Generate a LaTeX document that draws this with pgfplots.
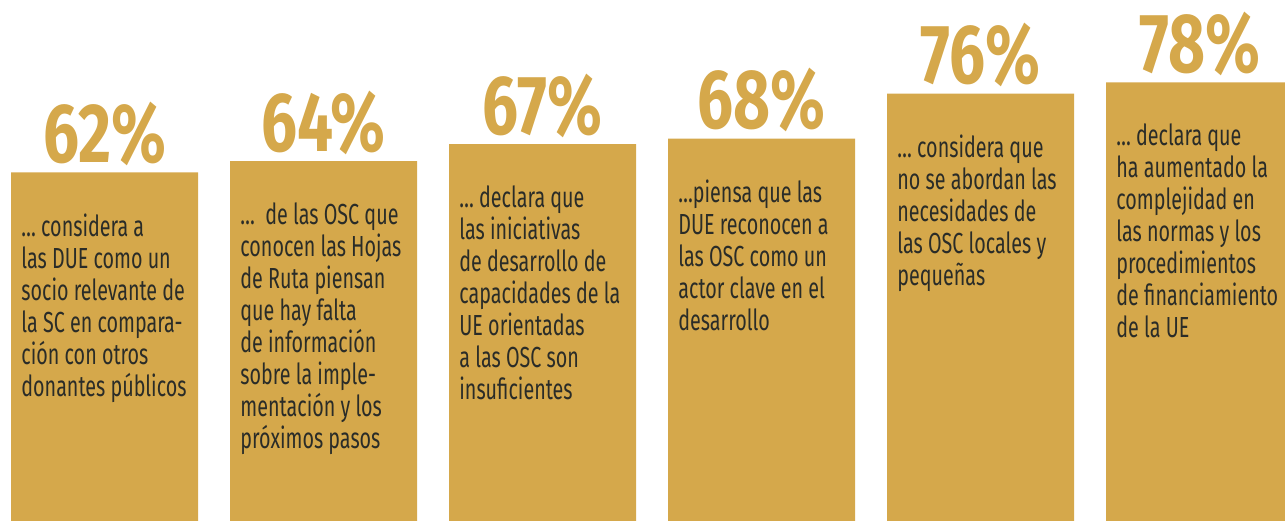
\documentclass[border=0pt]{standalone}
\usepackage{fontspec}
\setmainfont{Fira Sans}[FakeStretch=0.68]
\newfontfamily\pctfont{Fira Sans}[FakeStretch=0.76]
\usepackage{pgfplots}
\pgfplotsset{compat=1.18}
\definecolor{gold}{HTML}{D5A84B}
\definecolor{ink}{HTML}{2A2C28}
\newcommand{\bartext}[3]{\node[anchor=north west, inner sep=0pt, align=left, text=ink,
  font=\fontsize{14.5}{16}\selectfont, xshift=-41.75pt, yshift=-20.5pt] at (axis cs:#1,#2) {#3};}
\begin{document}
\begin{tikzpicture}
\begin{axis}[
  width=642.5pt, height=260.5pt, scale only axis,
  xmin=-0.4772, xmax=5.3904, ymin=0, ymax=92.64,
  axis lines=none, ybar, bar width=0.8539, bar shift=0pt,
  nodes near coords={\pgfmathprintnumber{\pgfplotspointmeta}\%},
  nodes near coords style={font=\pctfont\bfseries\fontsize{42}{42}\selectfont, text=gold, anchor=south, inner sep=0pt, yshift=3pt},
  /pgf/number format/assume math mode=true,
]
\path (rel axis cs:0,0) rectangle (rel axis cs:1,1);
\addplot[fill=gold, draw=none] coordinates {(0,62)(1,64)(2,67)(3,68)(4,76)(5,78)};
\bartext{0}{62}{…\ considera a\\las DUE como un\\socio relevante de\\la SC en compara-\\ción con otros\\donantes públicos}
\bartext{1}{64}{…\ \ de las OSC que\\conocen las Hojas\\de Ruta piensan\\que hay falta\\de información\\sobre la imple-\\mentación y los\\próximos pasos}
\bartext{2}{67}{…\ declara que\\las iniciativas\\de desarrollo de\\capacidades de la\\UE orientadas\\a las OSC son\\insuficientes}
\bartext{3}{68}{…piensa que las\\DUE reconocen a\\las OSC como un\\actor clave en el\\desarrollo}
\bartext{4}{76}{…\ considera que\\no se abordan las\\necesidades de\\las OSC locales y\\pequeñas}
\bartext{5}{78}{…\ declara que\\ha aumentado la\\complejidad en\\las normas y los\\procedimientos\\de financiamiento\\de la UE}
\end{axis}
\end{tikzpicture}
\end{document}
